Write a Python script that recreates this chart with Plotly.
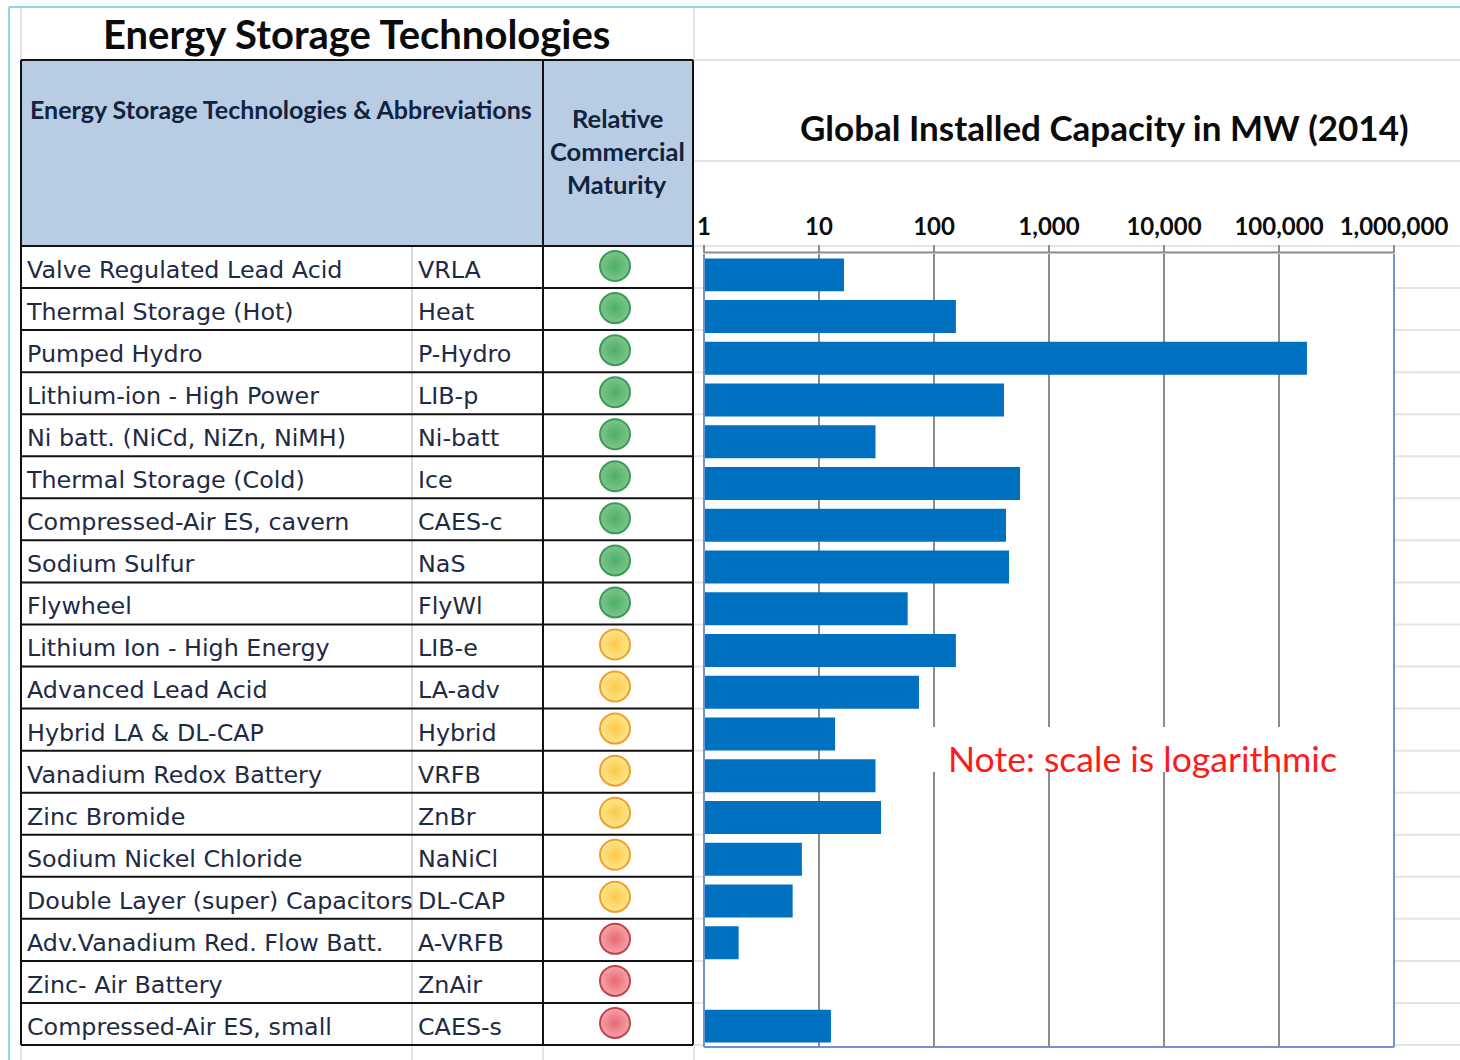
import plotly.graph_objects as go

names = ["Valve Regulated Lead Acid","Thermal Storage (Hot)","Pumped Hydro","Lithium-ion - High Power",
         "Ni batt. (NiCd, NiZn, NiMH)","Thermal Storage (Cold)","Compressed-Air ES, cavern","Sodium Sulfur",
         "Flywheel","Lithium Ion - High Energy","Advanced Lead Acid","Hybrid LA & DL-CAP","Vanadium Redox Battery",
         "Zinc Bromide","Sodium Nickel Chloride","Double Layer (super) Capacitors","Adv.Vanadium Red. Flow Batt.",
         "Zinc- Air Battery","Compressed-Air ES, small"]
abbrevs = ["VRLA","Heat","P-Hydro","LIB-p","Ni-batt","Ice","CAES-c","NaS","FlyWl","LIB-e","LA-adv","Hybrid",
           "VRFB","ZnBr","NaNiCl","DL-CAP","A-VRFB","ZnAir","CAES-s"]
capacity_mw = [16.5,155,175000,406,31,560,423,449,59,155,74,13.8,31,34.6,7.1,5.9,2,None,12.7]
maturity = ["green"]*9 + ["yellow"]*7 + ["red"]*3
tick_values = [1,10,100,1000,10000,100000,1000000]
tick_labels = ["1","10","100","1,000","10,000","100,000","1,000,000"]

W, H = 1460, 1060
BAR = "#0070C0"
# centre, rim of the fill, outline
MAT = {"green": ("#7CC68A", "#4FAE68", "#3B9A57"),
       "yellow": ("#FFE68A", "#FBC94A", "#EE9F2D"),
       "red": ("#F7A3A8", "#E56A74", "#BF4450")}
TXT = "#1F2A44"
HEAD = "Lato"
BODY = "DejaVu Sans"
N = len(abbrevs)

def fx(p): return p / W
def fy(p): return 1 - p / H

fig = go.Figure()
fig.add_trace(go.Bar(x=capacity_mw, y=abbrevs, orientation="h", marker=dict(color=BAR, line=dict(width=0)),
                     width=0.79, xaxis="x", yaxis="y", showlegend=False))
fig.add_trace(go.Scatter(x=[27]*N, y=abbrevs, text=names, mode="text", textposition="middle right",
                         textfont=dict(family=BODY, size=23.8, color=TXT), xaxis="x2", yaxis="y3",
                         cliponaxis=False, showlegend=False))
fig.add_trace(go.Scatter(x=[418]*N, y=abbrevs, text=abbrevs, mode="text", textposition="middle right",
                         textfont=dict(family=BODY, size=23.8, color=TXT), xaxis="x2", yaxis="y3",
                         cliponaxis=False, showlegend=False))
fig.add_trace(go.Scatter(x=[615]*N, y=abbrevs, mode="markers", xaxis="x2", yaxis="y2", showlegend=False,
                         marker=dict(size=30, symbol="circle",
                                     color=[MAT[m][0] for m in maturity],
                                     gradient=dict(type="radial", color=[MAT[m][1] for m in maturity]),
                                     line=dict(width=2, color=[MAT[m][2] for m in maturity]))))

shapes = []
def line(x0, y0, x1, y1, color, width, layer="below"):
    shapes.append(dict(type="line", xref="paper", yref="paper", x0=fx(x0), x1=fx(x1), y0=fy(y0), y1=fy(y1),
                       line=dict(color=color, width=width), layer=layer))
def box(x0, y0, x1, y1, color, layer="below"):
    shapes.append(dict(type="rect", xref="paper", yref="paper", x0=fx(x0), x1=fx(x1), y0=fy(y0), y1=fy(y1),
                       fillcolor=color, line=dict(width=0), layer=layer))

# spreadsheet backdrop
GRID = "#E4E4E4"
rows = [246 + i * (1045 - 246) / 19 for i in range(20)]
for y in [60, 161] + rows:
    line(694, y, W, y, GRID, 2)
for x in [21, 412, 543, 694]:
    line(x, 1046, x, H, GRID, 2)
line(694, 8, 694, 60, GRID, 2)
line(21, 8, 21, 60, GRID, 2)
line(9, 7, W, 7, "#92D3EE", 2)
line(9, 7, 9, H, "#92D3EE", 2)
# header fill and opaque chart area
box(21, 60, 693, 246, "#B8CCE4")
box(704, 254, 1394, 1047, "#FFFFFF")
line(412, 246, 412, 1045, "#DADADA", 2)
for y in [60] + rows:
    line(21, y, 693, y, "#111111", 2)
for x in [21, 543, 693]:
    line(x, 60, x, 1045, "#111111", 2)
# chart frame
line(704, 252.5, 1394, 252.5, "#8C8C8C", 2)
line(704, 254, 704, 1047, "#6C94CE", 2, "above")
line(1394, 254, 1394, 1047, "#6C94CE", 2)
line(704, 1047, 1394, 1047, "#6C94CE", 2)
# white band behind the note
box(925, 727, 1345, 772, "#FFFFFF", "above")

ann = []
def label(x, y, text, size, bold=True, color="#0B0B0B", family=HEAD):
    t = f"<b>{text}</b>" if bold else text
    ann.append(dict(xref="paper", yref="paper", x=fx(x), y=fy(y), text=t, showarrow=False, xanchor="center",
                    yanchor="middle", font=dict(family=family, size=size, color=color)))
label(356, 34, "Energy Storage Technologies", 40)
label(281, 109, "Energy Storage Technologies &amp; Abbreviations", 25, color="#10233F")
label(617, 118, "Relative", 25.5, color="#10233F")
label(617, 151, "Commercial", 25.5, color="#10233F")
label(617, 184, "Maturity", 25.5, color="#10233F")
label(1104, 127, "Global Installed Capacity in MW (2014)", 35)
label(1142, 758, "Note: scale is logarithmic", 35.6, bold=False, color="#FF1A1A")

cat_axis = dict(type="category", categoryorder="array", categoryarray=abbrevs, range=[N - 0.5, -0.5],
                visible=False, automargin=False)
fig.update_layout(
    template="none",
    width=W, height=H, autosize=False, margin=dict(l=0, r=0, t=0, b=0, pad=0),
    paper_bgcolor="#FFFFFF", plot_bgcolor="rgba(0,0,0,0)", bargap=0.21, shapes=shapes, annotations=ann,
    xaxis=dict(type="log", range=[0, 6], domain=[fx(704), fx(1394)], side="top", anchor="y", automargin=False,
               tickmode="array", tickvals=tick_values, ticktext=[f"<b>{t}</b>" for t in tick_labels],
               tickfont=dict(family=HEAD, size=24, color="#0B0B0B"), ticks="outside", ticklen=8, tickwidth=2,
               tickcolor="#8C8C8C", showgrid=True, gridcolor="#8C8C8C", gridwidth=2, showline=False,
               zeroline=False),
    yaxis=dict(cat_axis, domain=[fy(1047), fy(254)], anchor="x"),
    xaxis2=dict(range=[0, W], domain=[0, 1], anchor="y2", visible=False, automargin=False),
    yaxis2=dict(cat_axis, domain=[fy(1044), fy(245)], anchor="x2"),
    yaxis3=dict(cat_axis, domain=[fy(1050), fy(251)], anchor="x2"),
)
fig.write_html("out.html", config={"displayModeBar": False}, post_script="document.body.style.margin='0';")
